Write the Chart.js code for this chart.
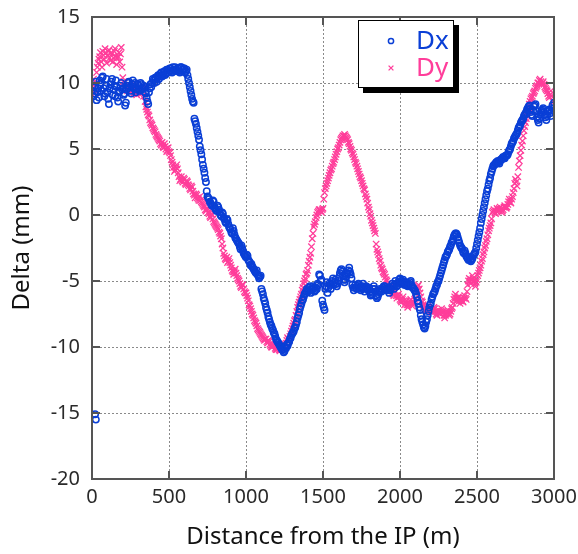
<!DOCTYPE html>
<html><head><meta charset="utf-8">
<script src="https://cdn.jsdelivr.net/npm/chart.js@4/dist/chart.umd.min.js"></script>
<style>html,body{margin:0;padding:0;background:#fff;} canvas{display:block;}</style>
</head><body>
<canvas id="c" width="578" height="554"></canvas>
<script>
const distance = [
0,10,20,30,40,50,60,70,80,90,100,110,120,130,140,150,160,170,180,190,
200,210,220,230,240,250,260,270,280,290,300,310,320,330,340,350,360,370,380,390,
400,410,420,430,440,450,460,470,480,490,500,510,520,530,540,550,560,570,580,590,
600,610,620,630,640,650,660,670,680,690,700,710,720,730,740,750,760,770,780,790,
800,810,820,830,840,850,860,870,880,890,900,910,920,930,940,950,960,970,980,990,
1000,1010,1020,1030,1040,1050,1060,1070,1080,1090,1100,1110,1120,1130,1140,1150,1160,1170,1180,1190,
1200,1210,1220,1230,1240,1250,1260,1270,1280,1290,1300,1310,1320,1330,1340,1350,1360,1370,1380,1390,
1400,1410,1420,1430,1440,1450,1460,1470,1480,1490,1500,1510,1520,1530,1540,1550,1560,1570,1580,1590,
1600,1610,1620,1630,1640,1650,1660,1670,1680,1690,1700,1710,1720,1730,1740,1750,1760,1770,1780,1790,
1800,1810,1820,1830,1840,1850,1860,1870,1880,1890,1900,1910,1920,1930,1940,1950,1960,1970,1980,1990,
2000,2010,2020,2030,2040,2050,2060,2070,2080,2090,2100,2110,2120,2130,2140,2150,2160,2170,2180,2190,
2200,2210,2220,2230,2240,2250,2260,2270,2280,2290,2300,2310,2320,2330,2340,2350,2360,2370,2380,2390,
2400,2410,2420,2430,2440,2450,2460,2470,2480,2490,2500,2510,2520,2530,2540,2550,2560,2570,2580,2590,
2600,2610,2620,2630,2640,2650,2660,2670,2680,2690,2700,2710,2720,2730,2740,2750,2760,2770,2780,2790,
2800,2810,2820,2830,2840,2850,2860,2870,2880,2890,2900,2910,2920,2930,2940,2950,2960,2970,2980,2990,
3000];

const dx = [
9.4,9.0,9.8,8.7,9.6,10.2,9.4,10.5,9.0,9.8,
9.3,8.4,9.9,10.3,9.5,9.0,9.7,8.6,9.4,10.0,
9.6,9.2,8.5,9.8,10.1,9.4,9.9,9.6,10.0,9.5,
9.8,9.4,9.9,9.6,9.7,9.2,8.6,9.3,9.9,10.0,
10.2,10.4,10.1,10.6,10.5,10.8,10.6,10.9,10.7,11.0,
10.9,11.1,10.8,11.0,11.2,10.9,11.1,10.8,11.2,11.0,
11.1,10.9,10.6,10.0,9.4,8.8,8.5,7.1,6.6,6.0,
5.2,4.6,3.8,3.2,2.5,1.4,1.2,0.9,0.7,1.0,
0.5,0.3,0.6,0.2,-0.1,0.1,-0.3,-0.6,-0.4,-0.9,
-1.1,-1.4,-1.2,-1.7,-1.9,-2.1,-2.4,-2.3,-2.7,-3.0,
-3.2,-3.1,-3.5,-3.8,-3.9,-4.1,-4.3,-4.2,-4.6,-4.7,
-5.6,-6.0,-6.5,-7.0,-7.4,-7.9,-8.3,-8.6,-8.9,-9.2,
-9.5,-9.7,-9.9,-10.1,-10.2,-10.3,-10.1,-9.9,-9.6,-9.3,
-9.0,-8.8,-8.5,-8.1,-7.6,-7.1,-6.7,-6.4,-6.0,-5.8,
-5.7,-5.5,-5.9,-5.6,-5.5,-5.7,-5.6,-5.3,-4.6,-4.9,
-6.8,-7.2,-5.4,-5.9,-5.2,-5.6,-5.0,-5.3,-4.9,-5.4,
-5.0,-4.4,-4.1,-4.6,-5.1,-4.7,-4.4,-4.0,-4.5,-5.3,
-5.7,-5.3,-5.6,-5.2,-5.5,-5.6,-5.2,-5.8,-5.4,-5.6,
-5.5,-6.1,-5.9,-5.4,-5.8,-6.3,-6.0,-5.6,-5.8,-5.5,
-5.4,-5.7,-5.5,-5.9,-5.6,-5.2,-5.6,-5.0,-5.4,-5.1,
-4.8,-5.2,-4.9,-5.3,-5.1,-5.4,-5.2,-5.0,-5.5,-5.6,
-5.8,-6.2,-6.7,-7.2,-7.9,-8.3,-8.6,-8.1,-7.6,-7.0,
-6.7,-6.2,-5.9,-5.6,-5.3,-5.0,-4.6,-4.2,-3.8,-3.4,
-3.1,-2.8,-2.6,-2.3,-2.0,-1.6,-1.4,-1.5,-1.9,-2.3,
-2.5,-2.8,-2.7,-3.1,-3.3,-3.2,-3.5,-3.3,-3.0,-2.8,
-2.2,-1.6,-1.0,-0.3,0.3,0.9,1.5,2.0,2.6,3.1,
3.5,3.8,3.9,4.0,4.0,4.1,4.2,4.4,4.3,4.5,
4.6,4.9,5.2,5.5,5.8,6.0,6.2,6.6,6.8,7.1,
7.3,7.6,7.8,8.1,8.3,7.8,7.5,8.2,8.4,7.4,
7.0,7.6,7.9,8.1,7.6,7.2,7.8,8.0,7.5,8.3,
8.5];

const dy = [
9.5,10.3,9.2,10.8,11.5,12.0,11.6,12.4,11.8,12.3,
12.1,12.5,11.7,12.2,11.9,12.6,11.4,12.0,11.6,12.7,
10.4,10.0,9.7,9.4,9.8,9.3,9.6,9.2,9.5,9.1,
9.4,9.6,9.2,9.5,9.7,8.2,7.8,7.5,7.0,6.8,
6.5,6.3,6.0,5.8,5.6,5.3,5.2,5.4,5.0,4.9,
4.8,4.5,4.0,3.6,3.4,3.8,3.2,2.6,2.9,2.5,
2.7,2.3,2.5,2.2,1.9,2.1,1.6,1.3,1.5,1.2,
1.4,1.0,0.8,0.6,0.3,0.5,0.1,-0.2,0.0,-0.5,
-0.7,-0.9,-1.1,-1.4,-1.8,-2.5,-3.1,-3.4,-3.6,-3.3,
-3.8,-4.2,-4.5,-4.1,-4.6,-4.9,-5.2,-5.5,-5.3,-5.8,
-5.9,-6.3,-6.8,-7.1,-7.5,-7.8,-8.1,-8.4,-8.7,-8.9,
-9.1,-9.3,-9.5,-9.4,-9.7,-9.6,-9.9,-10.0,-9.8,-10.1,
-10.2,-10.0,-10.3,-10.1,-9.9,-10.0,-9.7,-9.3,-9.5,-9.0,
-8.6,-8.2,-7.9,-7.3,-6.8,-6.4,-6.0,-5.5,-5.0,-4.5,
-4.2,-3.5,-2.9,-1.8,-0.9,-0.5,0.0,0.3,0.4,0.2,
0.5,1.7,2.2,2.6,3.0,3.4,3.7,4.0,4.4,4.8,
5.1,5.5,5.8,6.0,6.1,5.9,5.7,5.4,5.0,4.7,
4.4,4.0,3.7,3.3,2.9,2.6,2.2,1.9,1.4,0.9,
0.4,-0.1,-0.6,-1.0,-1.4,-2.6,-3.0,-3.5,-4.0,-4.3,
-4.5,-4.9,-5.2,-5.6,-5.4,-5.9,-6.1,-5.8,-6.3,-6.0,
-6.4,-6.6,-6.2,-6.8,-6.5,-7.0,-6.7,-6.4,-6.9,-6.6,
-6.3,-5.6,-5.3,-5.9,-6.5,-6.8,-7.0,-7.3,-6.9,-7.2,
-7.1,-7.4,-7.0,-7.3,-7.6,-7.2,-7.5,-7.1,-7.4,-7.8,
-7.5,-7.2,-7.6,-7.3,-7.0,-6.4,-6.0,-6.5,-6.2,-6.7,
-6.3,-6.6,-6.1,-6.4,-5.3,-4.8,-5.2,-4.6,-5.0,-5.4,
-4.9,-4.4,-4.0,-3.5,-3.0,-2.5,-2.0,-1.5,-1.0,-0.6,
0.2,0.4,0.1,0.5,0.3,0.6,0.2,0.4,0.7,0.5,
0.8,1.2,0.9,1.4,2.0,2.7,2.2,3.6,4.5,5.3,
6.0,6.7,7.3,7.8,8.4,8.8,9.0,9.3,9.6,9.8,
10.0,10.3,9.9,10.1,9.7,9.5,9.2,8.9,9.4,8.7,
8.6];

// second set of readings, taken between the first ones
const distanceB = [
5,15,25,35,45,55,65,75,85,95,105,115,125,135,145,155,165,175,185,195,
205,215,225,235,245,255,265,275,285,295,305,315,325,335,345,355,365,375,385,395,
405,415,425,435,445,455,465,475,485,495,505,515,525,535,545,555,565,575,585,595,
605,615,625,635,645,655,665,675,685,695,705,715,725,735,745,755,765,775,785,795,
805,815,825,835,845,855,865,875,885,895,905,915,925,935,945,955,965,975,985,995,
1005,1015,1025,1035,1045,1055,1065,1075,1085,1095,1105,1115,1125,1135,1145,1155,1165,1175,1185,1195,
1205,1215,1225,1235,1245,1255,1265,1275,1285,1295,1305,1315,1325,1335,1345,1355,1365,1375,1385,1395,
1405,1415,1425,1435,1445,1455,1465,1475,1485,1495,1505,1515,1525,1535,1545,1555,1565,1575,1585,1595,
1605,1615,1625,1635,1645,1655,1665,1675,1685,1695,1705,1715,1725,1735,1745,1755,1765,1775,1785,1795,
1805,1815,1825,1835,1845,1855,1865,1875,1885,1895,1905,1915,1925,1935,1945,1955,1965,1975,1985,1995,
2005,2015,2025,2035,2045,2055,2065,2075,2085,2095,2105,2115,2125,2135,2145,2155,2165,2175,2185,2195,
2205,2215,2225,2235,2245,2255,2265,2275,2285,2295,2305,2315,2325,2335,2345,2355,2365,2375,2385,2395,
2405,2415,2425,2435,2445,2455,2465,2475,2485,2495,2505,2515,2525,2535,2545,2555,2565,2575,2585,2595,
2605,2615,2625,2635,2645,2655,2665,2675,2685,2695,2705,2715,2725,2735,2745,2755,2765,2775,2785,2795,
2805,2815,2825,2835,2845,2855,2865,2875,2885,2895,2905,2915,2925,2935,2945,2955,2965,2975,2985,2995];

const dxB = [
9.7,9.2,10.1,9.3,8.9,9.9,10.4,9.6,9.2,10.3,
8.8,9.6,10.1,9.1,9.8,10.2,8.9,9.3,9.8,9.5,
9.1,8.3,9.5,10.0,9.7,9.2,10.2,9.7,9.3,9.9,
9.6,10.0,9.5,9.8,9.3,8.9,8.4,9.6,9.7,10.3,
10.0,10.3,10.5,10.3,10.7,10.5,10.8,10.6,11.0,10.8,
11.1,10.9,11.2,10.9,11.0,11.1,10.9,11.2,10.9,11.1,
10.8,11.0,10.3,9.7,9.1,8.6,7.3,6.9,6.3,5.7,
4.9,4.2,3.5,2.8,1.8,1.3,1.0,0.8,1.1,0.6,
0.4,0.7,0.4,0.0,0.2,-0.2,-0.5,-0.3,-0.7,-1.0,
-1.3,-1.0,-1.5,-1.8,-2.0,-2.2,-2.6,-2.5,-2.9,-3.1,
-3.0,-3.4,-3.6,-3.7,-4.0,-4.2,-4.4,-4.5,-4.8,-4.6,
-5.8,-6.3,-6.7,-7.2,-7.7,-8.1,-8.4,-8.7,-9.0,-9.4,
-9.6,-9.8,-10.0,-10.2,-10.4,-10.0,-9.8,-9.7,-9.4,-9.1,
-8.9,-8.6,-8.3,-7.8,-7.4,-6.9,-6.5,-6.2,-5.9,-5.6,
-5.8,-5.4,-5.7,-5.4,-5.8,-5.5,-5.2,-4.5,-5.0,-6.5,
-7.0,-5.6,-5.1,-5.5,-5.3,-5.2,-4.8,-5.1,-5.2,-5.2,
-4.7,-4.2,-4.3,-4.9,-4.9,-4.5,-4.2,-4.3,-4.8,-5.5,
-5.5,-5.5,-5.4,-5.3,-5.7,-5.4,-5.5,-5.6,-5.5,-5.7,
-5.8,-6.0,-5.6,-5.6,-6.1,-6.2,-5.8,-5.7,-5.6,-5.4,
-5.6,-5.6,-5.7,-5.7,-5.4,-5.4,-5.3,-5.2,-5.3,-4.9,
-5.0,-5.0,-5.1,-5.2,-5.3,-5.3,-5.1,-5.3,-5.5,-5.7,
-6.0,-6.5,-7.0,-7.6,-8.1,-8.5,-8.4,-7.9,-7.3,-6.8,
-6.4,-6.0,-5.8,-5.4,-5.1,-4.8,-4.4,-4.0,-3.6,-3.2,
-3.0,-2.7,-2.4,-2.1,-1.8,-1.5,-1.4,-1.7,-2.1,-2.4,
-2.6,-2.9,-2.9,-3.2,-3.4,-3.4,-3.4,-3.1,-2.9,-2.5,
-1.9,-1.3,-0.6,0.0,0.6,1.2,1.8,2.3,2.8,3.3,
3.7,3.8,4.0,4.1,3.9,4.2,4.3,4.3,4.5,4.5,
4.8,5.0,5.4,5.6,5.9,6.1,6.4,6.7,7.0,7.2,
7.5,7.7,8.0,8.2,8.0,7.6,7.9,8.3,7.9,7.2,
7.3,7.8,8.0,7.8,7.4,7.5,7.9,7.7,7.9,8.1];

const dyB = [
9.9,9.6,10.0,11.2,11.8,12.3,11.2,12.1,12.6,11.5,
12.4,11.9,12.3,11.6,12.4,12.0,11.9,12.3,12.2,11.2,
10.1,9.8,9.5,9.9,9.5,9.8,9.4,9.7,9.3,9.5,
9.2,9.7,9.4,9.0,8.6,8.0,7.6,7.2,6.9,6.6,
6.4,6.1,5.9,5.7,5.4,5.5,5.1,5.2,4.8,5.1,
4.7,4.2,3.8,3.3,3.6,3.5,2.9,2.7,2.6,2.8,
2.4,2.6,2.3,2.0,2.2,1.8,1.5,1.6,1.3,1.1,
1.1,0.9,0.7,0.4,0.4,0.2,-0.1,0.1,-0.3,-0.6,
-0.8,-1.0,-1.3,-1.6,-2.2,-2.9,-3.3,-3.2,-3.5,-3.6,
-4.0,-4.3,-4.3,-4.4,-4.8,-5.0,-5.4,-5.3,-5.6,-5.9,
-6.1,-6.5,-6.9,-7.3,-7.6,-8.0,-8.2,-8.6,-8.8,-9.0,
-9.2,-9.4,-9.4,-9.6,-9.5,-9.8,-10.0,-9.9,-9.9,-10.2,
-10.1,-10.2,-10.2,-10.0,-10.0,-9.8,-9.5,-9.4,-9.2,-8.8,
-8.4,-8.0,-7.6,-7.0,-6.6,-6.2,-5.7,-5.2,-4.8,-4.4,
-3.8,-3.2,-2.4,-1.4,-0.7,-0.2,0.2,0.4,0.3,0.4,
1.2,2.0,2.4,2.8,3.2,3.5,3.9,4.2,4.6,5.0,
5.3,5.7,5.9,6.0,6.0,5.8,5.5,5.2,4.9,4.6,
4.2,3.9,3.5,3.1,2.8,2.4,2.0,1.6,1.2,0.6,
0.1,-0.4,-0.8,-1.2,-2.2,-2.8,-3.3,-3.8,-4.1,-4.4,
-4.7,-5.0,-5.4,-5.5,-5.6,-6.0,-5.9,-6.1,-6.1,-6.2,
-6.5,-6.4,-6.5,-6.6,-6.8,-6.8,-6.5,-6.7,-6.7,-6.4,
-5.9,-5.4,-5.6,-6.2,-6.6,-6.9,-7.2,-7.1,-7.0,-7.1,
-7.3,-7.2,-7.1,-7.5,-7.4,-7.4,-7.3,-7.3,-7.6,-7.6,
-7.4,-7.4,-7.5,-7.1,-6.7,-6.2,-6.3,-6.3,-6.5,-6.5,
-6.5,-6.3,-6.3,-5.8,-5.0,-5.0,-4.9,-4.8,-5.2,-5.1,
-4.6,-4.2,-3.8,-3.3,-2.8,-2.3,-1.8,-1.2,-0.8,-0.3,
0.3,0.2,0.3,0.4,0.5,0.4,0.3,0.6,0.6,0.6,
1.0,1.0,1.2,1.7,2.4,2.5,2.9,4.1,4.9,5.6,
6.4,7.0,7.5,8.1,8.6,8.9,9.2,9.4,9.7,10.0,
10.2,10.1,10.0,9.9,9.6,9.4,9.0,9.1,9.0,8.6];

const dxOutlierDistance = [20, 25];
const dxOutlier = [-15.1, -15.5];

const seriesNames = ['Dx', 'Dy'];
const xTicks = [0, 500, 1000, 1500, 2000, 2500, 3000];
const yTicks = [-20, -15, -10, -5, 0, 5, 10, 15];
const xTitle = 'Distance from the IP (m)';
const yTitle = 'Delta (mm)';

const BLUE = '#0a3fd6';
const PINK = '#ff3d9a';
const FONT = '"Noto Sans", "DejaVu Sans", sans-serif';

const toPts = (xs, ys) => xs.map((d, i) => ({x: d, y: ys[i]}));
const dxPoints = toPts(distance, dx).concat(toPts(distanceB, dxB), toPts(dxOutlierDistance, dxOutlier));
const dyPoints = toPts(distance, dy).concat(toPts(distanceB, dyB));

const framePlugin = {
  id: 'frame',
  afterDraw(chart) {
    const ctx = chart.ctx;
    const a = chart.chartArea;
    const xs = chart.scales.x, ys = chart.scales.y;
    ctx.save();
    ctx.strokeStyle = '#555';
    ctx.lineWidth = 2;
    ctx.strokeRect(a.left, a.top, a.right - a.left, a.bottom - a.top);
    ctx.beginPath();
    const tl = 8;
    xTicks.forEach(v => {
      const px = xs.getPixelForValue(v);
      ctx.moveTo(px, a.bottom); ctx.lineTo(px, a.bottom - tl);
      ctx.moveTo(px, a.top); ctx.lineTo(px, a.top + tl);
    });
    yTicks.forEach(v => {
      const py = ys.getPixelForValue(v);
      ctx.moveTo(a.left, py); ctx.lineTo(a.left + tl, py);
      ctx.moveTo(a.right, py); ctx.lineTo(a.right - tl, py);
    });
    ctx.stroke();

    // legend box
    const bx = 358, by = 20, bw = 96, bh = 68;
    ctx.fillStyle = '#000';
    ctx.fillRect(bx + 5, by + 5, bw, bh);
    ctx.fillStyle = '#fff';
    ctx.fillRect(bx, by, bw, bh);
    ctx.strokeStyle = '#000';
    ctx.lineWidth = 1;
    ctx.strokeRect(bx + 0.5, by + 0.5, bw - 1, bh - 1);
    chart.data.datasets.forEach((ds, i) => {
      const cy = by + 21 + i * 27;
      ctx.strokeStyle = ds.borderColor;
      ctx.fillStyle = 'rgba(0,0,0,0)';
      ctx.lineWidth = ds.borderWidth;
      Chart.helpers.drawPoint(ctx, {
        pointStyle: ds.pointStyle, radius: ds.pointStyle === 'circle' ? 2.6 : 3.4, borderWidth: ds.borderWidth
      }, bx + 33, cy);
      ctx.fillStyle = ds.borderColor;
      ctx.font = '26px ' + FONT;
      ctx.textBaseline = 'middle';
      ctx.textAlign = 'left';
      ctx.fillText(ds.label, bx + 58, cy + 1);
    });
    ctx.restore();
  }
};

const zeroPad = s => { s.paddingTop = 0; s.paddingBottom = 0; s.paddingLeft = 0; s.paddingRight = 0; };

new Chart(document.getElementById('c'), {
  type: 'scatter',
  data: {
    datasets: [
      { label: seriesNames[0], data: dxPoints, pointStyle: 'circle', pointRadius: 3.2,
        borderColor: BLUE, backgroundColor: 'rgba(0,0,0,0)', borderWidth: 1.5, pointHoverRadius: 3.2 },
      { label: seriesNames[1], data: dyPoints, pointStyle: 'crossRot', pointRadius: 4.5,
        borderColor: PINK, backgroundColor: PINK, borderWidth: 1.3, pointHoverRadius: 4.5 }
    ]
  },
  options: {
    responsive: false,
    animation: false,
    devicePixelRatio: 1,
    layout: { padding: { left: 0, top: 17, right: 24, bottom: 0 } },
    plugins: { legend: { display: false }, tooltip: { enabled: false } },
    scales: {
      x: {
        type: 'linear', min: 0, max: 3000,
        afterBuildTicks: s => { s.ticks = xTicks.map(v => ({value: v})); },
        afterFit: s => { s.height = 75; zeroPad(s); },
        grid: { color: '#8a8a8a', lineWidth: 1, drawTicks: false },
        border: { display: false, dash: [2, 2] },
        ticks: { padding: 6, color: '#2a2a2a', font: { family: FONT, size: 20 }, maxRotation: 0,
                 callback: v => String(v) },
        title: { display: true, text: xTitle, color: '#111', font: { family: FONT, size: 24 }, padding: { top: 0, bottom: 2 } }
      },
      y: {
        type: 'linear', min: -20, max: 15,
        afterBuildTicks: s => { s.ticks = yTicks.map(v => ({value: v})); },
        afterFit: s => { s.width = 92; zeroPad(s); },
        grid: { color: '#8a8a8a', lineWidth: 1, drawTicks: false },
        border: { display: false, dash: [2, 2] },
        ticks: { padding: 12, color: '#2a2a2a', font: { family: FONT, size: 20 }, callback: v => String(v) },
        title: { display: true, text: yTitle, color: '#111', font: { family: FONT, size: 24 }, padding: { top: 8, bottom: 0 } }
      }
    }
  },
  plugins: [framePlugin]
});
</script>
</body></html>
